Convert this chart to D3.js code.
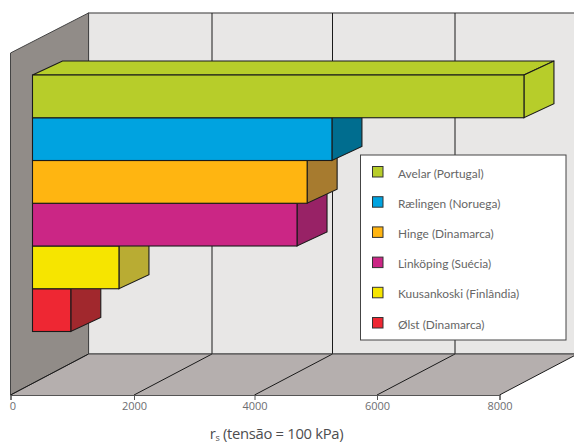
<!DOCTYPE html>
<html><head><meta charset="utf-8">
<script src="https://cdn.jsdelivr.net/npm/d3@7"></script>
<style>html,body{margin:0;padding:0;background:#fff}svg{display:block}</style>
</head><body><div id="c"></div>
<script>
const categories=["Avelar (Portugal)","Rælingen (Noruega)","Hinge (Dinamarca)","Linköping (Suécia)","Kuusankoski (Finlândia)","Ølst (Dinamarca)"];
const values=[8040,4905,4500,4335,1400,620];
const frontColors=["#b7cd2a","#00a3e0","#ffb511","#cb2685","#f6e500","#ee2733"];
const sideColors=["#b7cd2a","#006d8f","#a77b2f","#982266","#b9ac33","#a1282d"];
const ticks=[0,2000,4000,6000,8000];

const W=574,H=442;
const svg=d3.select("#c").append("svg").attr("width",W).attr("height",H);
const x=d3.scaleLinear().domain(ticks).range([10.5,134,254.5,377,499.5]);
const floorY=395, backY=354, topY=13, wallTopY=53;
const dx=78, dy=-41;        // full floor depth
const barInset=22;          // bars start this far into the floor
const bdx=30, bdy=-14;      // bar depth
const y=d3.scaleBand().domain(categories).range([75,331.5]);
const ink="#1a1a1a";
const path=p=>"M"+p.map(q=>q.join(",")).join("L")+"Z";

// back wall
svg.append("rect").attr("x",x(0)+dx).attr("y",topY).attr("width",W).attr("height",backY-topY)
  .attr("fill","#e8e7e6").attr("stroke","#555").attr("stroke-width",1.2);
// floor
svg.append("path").attr("d",path([[x(0),floorY],[x(0)+dx,backY],[x(8000)+dx,backY],[x(8000),floorY]]))
  .attr("fill","#b5afae");
// left wall
svg.append("path").attr("d",path([[x(0),wallTopY],[x(0)+dx,topY],[x(0)+dx,backY],[x(0),floorY]]))
  .attr("fill","#918c88").attr("stroke","#444").attr("stroke-width",1);
// gridlines
ticks.slice(1).forEach(t=>{
  svg.append("line").attr("x1",x(t)+dx).attr("x2",x(t)+dx).attr("y1",topY).attr("y2",backY).attr("stroke",ink).attr("stroke-width",1);
  svg.append("line").attr("x1",x(t)).attr("x2",x(t)+dx).attr("y1",floorY).attr("y2",backY).attr("stroke",ink).attr("stroke-width",1);
});
svg.append("line").attr("x1",x(0)).attr("x2",x(0)+dx).attr("y1",floorY).attr("y2",backY).attr("stroke",ink).attr("stroke-width",1);
svg.append("line").attr("x1",x(0)+dx).attr("x2",W).attr("y1",backY).attr("y2",backY).attr("stroke","#444").attr("stroke-width",1);

// axis
const axis=svg.append("g").attr("transform",`translate(0,${floorY})`)
  .call(d3.axisBottom(x).tickValues(ticks).tickFormat(d3.format("d")).tickSize(5).tickPadding(2));
axis.select(".domain").attr("stroke","#555").attr("stroke-width",1.2);
axis.selectAll(".tick line").attr("stroke","#555");
axis.selectAll("text").attr("fill","#6d6e71").attr("font-family","'Open Sans'").attr("font-size",11);
axis.selectAll(".tick").filter(d=>d===0).select("text").attr("dx",2);

// bars (drawn bottom to top so each overlaps the one below)
const order=d3.range(categories.length).reverse();
const x0=x(0)+barInset;
order.forEach(i=>{
  const xe=x(values[i])+barInset, t=y(categories[i]), b=t+y.bandwidth();
  const g=svg.append("g").attr("stroke",ink).attr("stroke-width",1.1).attr("stroke-linejoin","miter");
  g.append("path").attr("d",path([[x0,t],[x0+bdx,t+bdy],[xe+bdx,t+bdy],[xe,t]])).attr("fill",frontColors[i]);
  g.append("path").attr("d",path([[xe,t],[xe+bdx,t+bdy],[xe+bdx,b+bdy],[xe,b]])).attr("fill",sideColors[i]);
  g.append("rect").attr("x",x0).attr("y",t).attr("width",xe-x0).attr("height",b-t).attr("fill",frontColors[i]);
});

// legend
const lg=svg.append("g");
lg.append("rect").attr("x",360.5).attr("y",155).attr("width",205.5).attr("height",185)
  .attr("fill","#fff").attr("stroke","#444").attr("stroke-width",1);
const rowY=d3.scalePoint().domain(categories).range([173.5,324.5]);
categories.forEach((c,i)=>{
  lg.append("rect").attr("x",372.5).attr("y",rowY(c)-7).attr("width",10.5).attr("height",10.5)
    .attr("fill",frontColors[i]).attr("stroke","#333").attr("stroke-width",1);
  lg.append("text").attr("x",398).attr("y",rowY(c)+4).text(c)
    .attr("font-family","Lato").attr("font-size",11.9).attr("fill","#666");
});

// axis title
const title=svg.append("text").attr("x",276.5).attr("y",439).attr("text-anchor","middle")
  .attr("font-family","'Open Sans'").attr("font-size",14.8).attr("fill","#4d4d4f").attr("letter-spacing",-0.3);
title.append("tspan").text("r");
title.append("tspan").text("s").attr("font-size",9).attr("dy",1.5);
title.append("tspan").text(" (tensão = 100 kPa)").attr("dy",-1.5);
</script></body></html>
